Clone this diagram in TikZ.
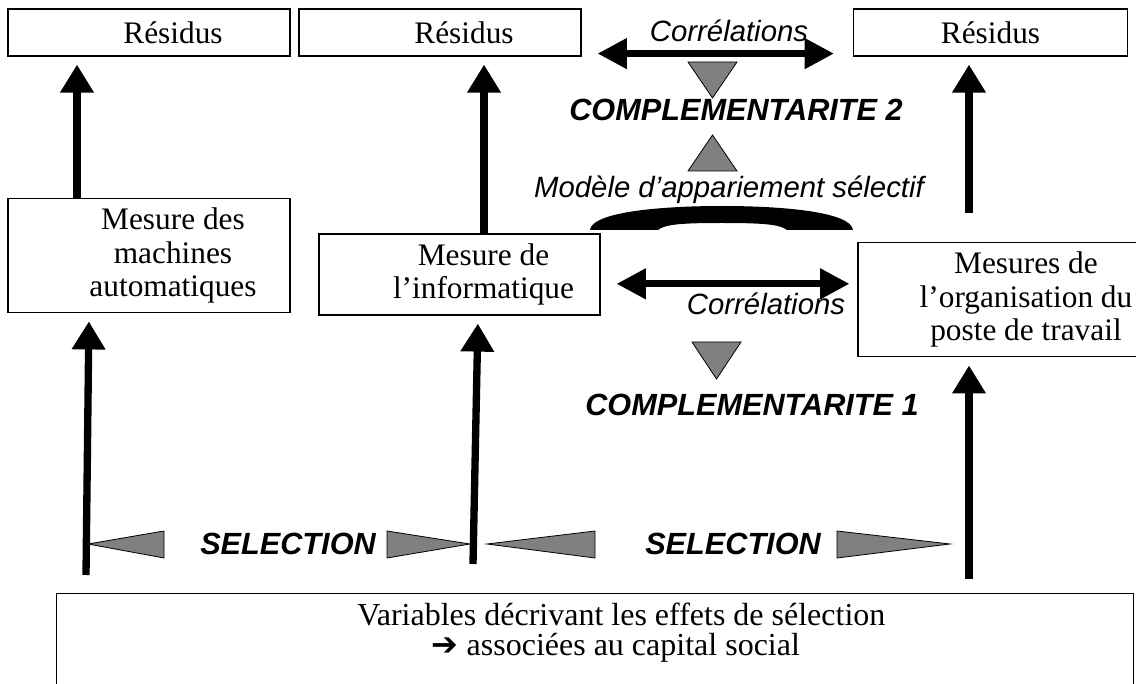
\documentclass[tikz,border=0pt]{standalone}
\usepackage{fontspec}
\setmainfont{Liberation Serif}
\setsansfont{Liberation Sans}
\newfontfamily\symfont{DejaVu Sans}
\usetikzlibrary{arrows.meta}
\definecolor{wedgegray}{RGB}{128,128,128}

\begin{document}
\begin{tikzpicture}[x=0.75pt, y=-0.75pt,
	box/.style={draw, line width=0.9pt, inner sep=0pt, align=center, font=\fontsize{23.5}{25}\selectfont},
	up/.style={line width=5.5pt, -{Triangle[width=24pt,length=21pt]}, shorten >=6pt},
	both/.style={line width=5pt, {Triangle[width=22pt,length=22pt]}-{Triangle[width=22pt,length=22pt]}},
	tag/.style={font=\sffamily\itshape\fontsize{22}{24}\selectfont, inner sep=0pt},
	head/.style={font=\sffamily\bfseries\itshape\fontsize{23}{25}\selectfont, inner sep=0pt},
	wedge/.style={draw, line width=0.6pt, fill=wedgegray}]
	\useasboundingbox (0,0) rectangle (1136,684);
	% boxes
	\node[box, minimum width=211.5pt, minimum height=35.25pt] (res1) at (149,32.5) {\hspace*{36pt}Résidus};
	\node[box, minimum width=211.5pt, minimum height=35.25pt] (res2) at (440,32.5) {\hspace*{36pt}Résidus};
	\node[box, minimum width=206pt, minimum height=35.25pt] (res3) at (990.5,32.5) {Résidus};
	\node[box, minimum width=211.5pt, minimum height=86pt] (mach) at (149,255.5)
		{\hspace*{36pt}Mesure des\\\hspace*{36pt}machines\\\hspace*{36pt}automatiques};
	\node[box, minimum width=210.75pt, minimum height=60.75pt] (info) at (459.5,274.5)
		{\hspace*{36pt}Mesure de\\\hspace*{36pt}l’informatique};
	\node[box, minimum width=219pt, minimum height=86pt] (org) at (1004,299.5)
		{\hspace*{33pt}Mesures de\\\hspace*{33pt}l’organisation du\\\hspace*{33pt}poste de travail};
	\node[box, anchor=north west, minimum width=807.75pt, minimum height=80pt] (varbox) at (56,593) {};
	\node[anchor=north west, align=left, inner sep=0pt, font=\fontsize{24}{22.5}\selectfont] (vartext) at (357,603)
		{Variables décrivant les effets de sélection\\\hspace*{56pt}{\symfont\fontsize{24}{20}\selectfont ➔} associées au capital social};
	% arrows
	\draw[up] ([xshift=-54pt]mach.north) -- ([xshift=-54pt]res1.south);
	\draw[up] ([xshift=18.4pt]info.north) -- ([xshift=18.4pt]info.north |- res2.south);
	\coordinate (top3) at (969,213);
	\draw[up] (top3) -- (top3 |- res3.south);
	\coordinate (low1) at (86,575);
	\coordinate (low2) at (473,564);
	\coordinate (low3) at (969,579);
	\draw[up] (low1) -- ([xshift=-45pt]mach.south);
	\draw[up] (low2) -- ([xshift=13.9pt]info.south);
	\draw[up] (low3) -- (low3 |- org.south);
	\draw[both, shorten <=12pt, shorten >=14pt] ([yshift=2.25pt]res2.south east) -- ([yshift=2.25pt]res3.south west);
	\draw[both, shorten <=12pt, shorten >=6pt] ([yshift=-7pt]info.east) -- ([yshift=-7pt]info.east -| org.west);
	% labels
	\node[tag] (corr2) at (729,31) {Corrélations};
	\node[head] (comp2) at (736,110) {COMPLEMENTARITE 2};
	\node[tag] (model) at (729,190) {Modèle d’appariement sélectif};
	\node[tag] (corr1) at (766,304) {Corrélations};
	\node[head] (comp1) at (752,405) {COMPLEMENTARITE 1};
	\node[head] (sel1) at (288,544) {SELECTION};
	\node[head] (sel2) at (733,544) {SELECTION};
	% triangles
	\draw[wedge] (688,62) -- (737,62) -- (712.5,98) -- cycle;
	\draw[wedge] (688,171) -- (737,171) -- (712.5,135) -- cycle;
	\draw[wedge] (692,342) -- (741,342) -- (716.5,379) -- cycle;
	\draw[wedge] (88,544) -- (164,531) -- (164,558) -- cycle;
	\draw[wedge] (387,531) -- (387,558) -- (470,544) -- cycle;
	\draw[wedge] (487,544) -- (595,531) -- (595,558) -- cycle;
	\draw[wedge] (837,531) -- (837,558) -- (950,544) -- cycle;
	% arc
	\fill (590,230) .. controls (592,212) and (660,206) .. (722,206) .. controls (784,206) and (851,212) .. (853,230)
		-- (787,230) .. controls (780,224) and (760,223) .. (722,223) .. controls (684,223) and (665,224) .. (658,230) -- cycle;
\end{tikzpicture}
\end{document}
